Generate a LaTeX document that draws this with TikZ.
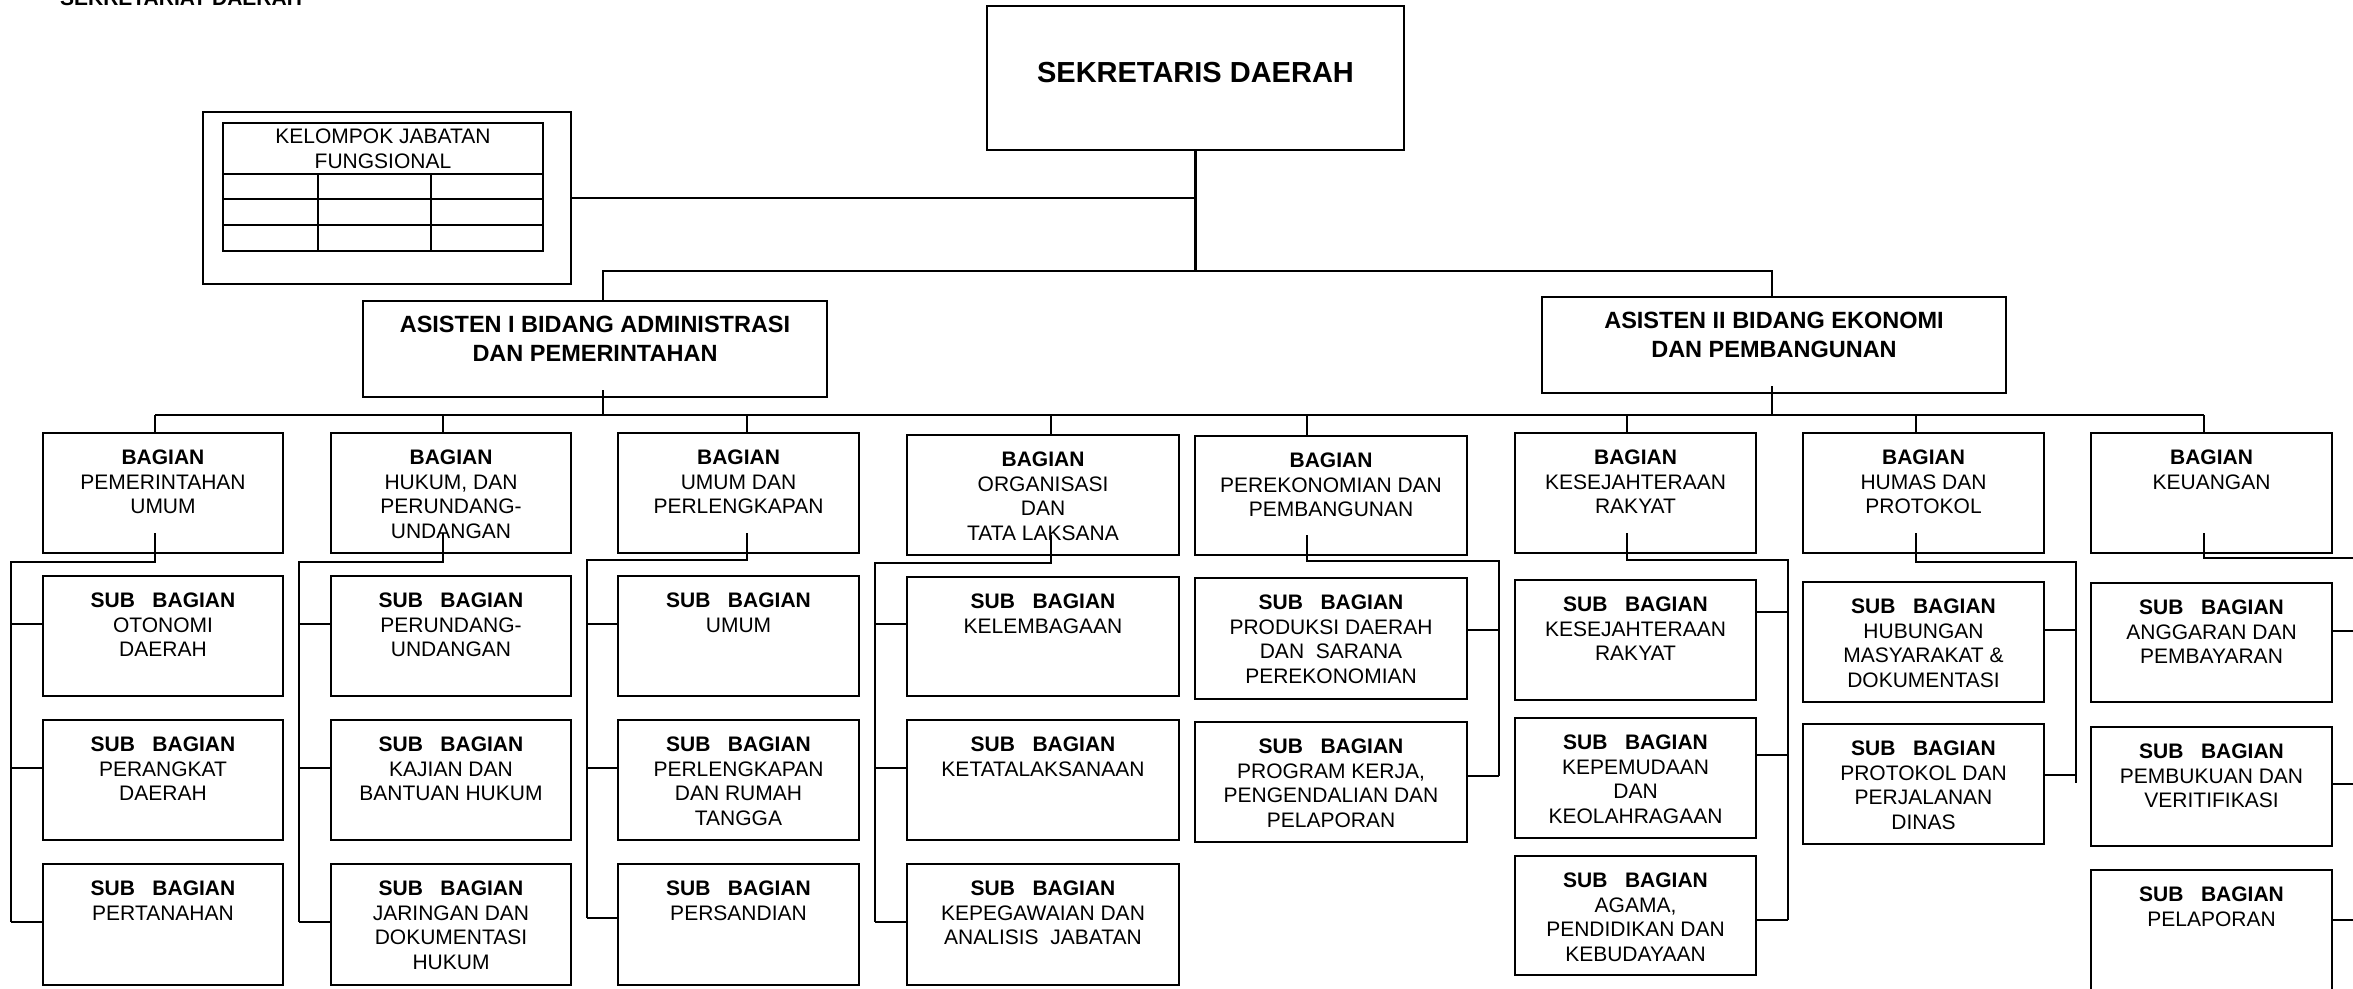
\documentclass[tikz,border=0pt]{standalone}
\usepackage{fontspec}
\setmainfont{Liberation Sans}
\usetikzlibrary{calc}
\newcommand\bagn{\textbf{BAGIAN}}
\newcommand\subbag{\textbf{SUB\ \ \ BAGIAN}}
\newcommand\obox[6]{%
  \node[box, minimum width={(#4-#2)*0.5pt}, minimum height={(#5-#3)*0.5pt}] (#1) at ({(#2+#4)/2},{(#3+#5)/2}) {};
  \node[txt, anchor=north] (#1t) at ([yshift=-8pt]#1.north) {#6};}
\begin{document}
\begin{tikzpicture}[x=0.5pt,y=-0.5pt,line width=1.1pt,
  box/.style={draw, inner sep=0pt, outer sep=0pt},
  txt/.style={inner sep=0pt, align=center, font=\fontsize{10.5}{12.25}\selectfont},
  big/.style={inner sep=0pt, align=center, font=\bfseries\fontsize{11.75}{14.5}\selectfont}]
\useasboundingbox (0,0) rectangle (2353,989);
\clip (0,0) rectangle (2353,989);
% title
\node[anchor=base west, inner sep=0pt, font=\bfseries\fontsize{10.5}{12}\selectfont] (title) at (59,6) {SEKRETARIAT DAERAH};
% sekretaris daerah
\node[box, minimum width=208.5pt, minimum height=72pt] (sd) at (1195.5,78) {};
\node[inner sep=0pt, anchor=north, font=\bfseries\fontsize{14.5}{17}\selectfont] (sdt) at ([yshift=-27.8pt]sd.north) {SEKRETARIS DAERAH};
% kelompok jabatan fungsional
\node[box, minimum width=184pt, minimum height=86pt] (kjf) at (387,198) {};
\node[box, minimum width=160pt, minimum height=25.5pt] (kjh) at (383,148.5) {};
\node[txt, anchor=north] (kjt) at ([yshift=-2.6pt]kjh.north) {KELOMPOK JABATAN\\FUNGSIONAL};
\draw (kjh.south west) rectangle ($(kjh.south east)+(0,77)$);
\draw (kjh.south west |- 0,199) -- (kjh.south east |- 0,199);
\draw (kjh.south west |- 0,225) -- (kjh.south east |- 0,225);
\draw (318,0 |- kjh.south) -- (318,251);
\draw (431,0 |- kjh.south) -- (431,251);
% asisten
\node[box, minimum width=232pt, minimum height=48pt] (a1) at (595,349) {};
\node[big, anchor=north] (a1t) at ([yshift=-7pt]a1.north) {ASISTEN I BIDANG ADMINISTRASI\\DAN PEMERINTAHAN};
\node[box, minimum width=232pt, minimum height=48pt] (a2) at (1774,345) {};
\node[big, anchor=north] (a2t) at ([yshift=-7pt]a2.north) {ASISTEN II BIDANG EKONOMI\\DAN PEMBANGUNAN};
% bagian
\obox{pu}{43}{433}{283}{553}{\bagn\\PEMERINTAHAN\\UMUM}
\obox{hk}{331}{433}{571}{553}{\bagn\\HUKUM, DAN\\PERUNDANG-\\UNDANGAN}
\obox{um}{618}{433}{859}{553}{\bagn\\UMUM DAN\\PERLENGKAPAN}
\obox{og}{907}{435}{1179}{555}{\bagn\\ORGANISASI\\DAN\\TATA LAKSANA}
\obox{pe}{1195}{436}{1467}{555}{\bagn\\PEREKONOMIAN DAN\\PEMBANGUNAN}
\obox{ks}{1515}{433}{1756}{553}{\bagn\\KESEJAHTERAAN\\RAKYAT}
\obox{hm}{1803}{433}{2044}{553}{\bagn\\HUMAS DAN\\PROTOKOL}
\obox{ku}{2091}{433}{2332}{553}{\bagn\\KEUANGAN}
% sub bagian
\obox{pu1}{43}{576}{283}{696}{\subbag\\OTONOMI\\DAERAH}
\obox{pu2}{43}{720}{283}{840}{\subbag\\PERANGKAT\\DAERAH}
\obox{pu3}{43}{864}{283}{985}{\subbag\\PERTANAHAN}
\obox{hk1}{331}{576}{571}{696}{\subbag\\PERUNDANG-\\UNDANGAN}
\obox{hk2}{331}{720}{571}{840}{\subbag\\KAJIAN DAN\\BANTUAN HUKUM}
\obox{hk3}{331}{864}{571}{985}{\subbag\\JARINGAN DAN\\DOKUMENTASI\\HUKUM}
\obox{um1}{618}{576}{859}{696}{\subbag\\UMUM}
\obox{um2}{618}{720}{859}{840}{\subbag\\PERLENGKAPAN\\DAN RUMAH\\TANGGA}
\obox{um3}{618}{864}{859}{985}{\subbag\\PERSANDIAN}
\obox{og1}{907}{577}{1179}{696}{\subbag\\KELEMBAGAAN}
\obox{og2}{907}{720}{1179}{840}{\subbag\\KETATALAKSANAAN}
\obox{og3}{907}{864}{1179}{985}{\subbag\\KEPEGAWAIAN DAN\\ANALISIS\ \ JABATAN}
\obox{pe1}{1195}{578}{1467}{699}{\subbag\\PRODUKSI DAERAH\\DAN\ \ SARANA\\PEREKONOMIAN}
\obox{pe2}{1195}{722}{1467}{842}{\subbag\\PROGRAM KERJA,\\PENGENDALIAN DAN\\PELAPORAN}
\obox{ks1}{1515}{580}{1756}{700}{\subbag\\KESEJAHTERAAN\\RAKYAT}
\obox{ks2}{1515}{718}{1756}{838}{\subbag\\KEPEMUDAAN\\DAN\\KEOLAHRAGAAN}
\obox{ks3}{1515}{856}{1756}{975}{\subbag\\AGAMA,\\PENDIDIKAN DAN\\KEBUDAYAAN}
\obox{hm1}{1803}{582}{2044}{702}{\subbag\\HUBUNGAN\\MASYARAKAT \&\\DOKUMENTASI}
\obox{hm2}{1803}{724}{2044}{844}{\subbag\\PROTOKOL DAN\\PERJALANAN\\DINAS}
\obox{ku1}{2091}{583}{2332}{702}{\subbag\\ANGGARAN DAN\\PEMBAYARAN}
\obox{ku2}{2091}{727}{2332}{846}{\subbag\\PEMBUKUAN DAN\\VERITIFIKASI}
\obox{ku3}{2091}{870}{2332}{1020}{\subbag\\PELAPORAN}
% top connectors
\coordinate (t1) at (603,271);
\coordinate (t2) at (1772,271);
\draw (sd.south) -- (sd.south |- t1);
\draw (kjf.east) -- (kjf.east -| sd.south);
\draw (t1 |- a1.north) -- (t1) -- (t2) -- (t2 |- a2.north);
% second bus
\coordinate (d1) at (155,415);
\coordinate (d2) at (443,415);
\coordinate (d3) at (747,415);
\coordinate (d4) at (1051,415);
\coordinate (d5) at (1307,415);
\coordinate (d6) at (1627,415);
\coordinate (d7) at (1916,415);
\coordinate (d8) at (2204,415);
\draw ($(t1 |- a1.south)+(0,-7)$) -- (t1 |- d1);
\draw ($(t2 |- a2.south)+(0,-7)$) -- (t2 |- d1);
\draw (d1) -- (d8);
\foreach \d/\b in {d1/pu,d2/hk,d3/um,d4/og,d5/pe,d6/ks,d7/hm,d8/ku}
  \draw (\d) -- (\d |- \b.north);
% groups
\coordinate (h1) at (11,562);
\draw ($(d1 |- pu.south)+(0,-20)$) -- (d1 |- h1) -- (h1) -- (h1 |- 0,922);
\foreach \y/\s in {624/pu1,768/pu2,922/pu3} \draw (h1 |- 0,\y) -- (\s.west |- 0,\y);
\coordinate (h2) at (299,562);
\draw ($(d2 |- hk.south)+(0,-20)$) -- (d2 |- h2) -- (h2) -- (h2 |- 0,922);
\foreach \y/\s in {624/hk1,768/hk2,922/hk3} \draw (h2 |- 0,\y) -- (\s.west |- 0,\y);
\coordinate (h3) at (587,560);
\draw ($(d3 |- um.south)+(0,-20)$) -- (d3 |- h3) -- (h3) -- (h3 |- 0,918);
\foreach \y/\s in {624/um1,768/um2,918/um3} \draw (h3 |- 0,\y) -- (\s.west |- 0,\y);
\coordinate (h4) at (875,563);
\draw ($(d4 |- og.south)+(0,-20)$) -- (d4 |- h4) -- (h4) -- (h4 |- 0,922);
\foreach \y/\s in {624/og1,768/og2,922/og3} \draw (h4 |- 0,\y) -- (\s.west |- 0,\y);
\coordinate (h5) at (1499,561);
\draw ($(d5 |- pe.south)+(0,-20)$) -- (d5 |- h5) -- (h5) -- (h5 |- 0,776);
\foreach \y/\s in {630/pe1,776/pe2} \draw (h5 |- 0,\y) -- (\s.east |- 0,\y);
\coordinate (h6) at (1788,560);
\draw ($(d6 |- ks.south)+(0,-20)$) -- (d6 |- h6) -- (h6) -- (h6 |- 0,920);
\foreach \y/\s in {612/ks1,755/ks2,920/ks3} \draw (h6 |- 0,\y) -- (\s.east |- 0,\y);
\coordinate (h7) at (2076,562);
\draw ($(d7 |- hm.south)+(0,-20)$) -- (d7 |- h7) -- (h7) -- (h7 |- 0,783);
\foreach \y/\s in {630/hm1,775/hm2} \draw (h7 |- 0,\y) -- (\s.east |- 0,\y);
\coordinate (h8) at (2365,558);
\draw ($(d8 |- ku.south)+(0,-20)$) -- (d8 |- h8) -- (h8);
\foreach \y/\s in {631/ku1,784/ku2,920/ku3} \draw (h8 |- 0,\y) -- (\s.east |- 0,\y);
\end{tikzpicture}
\end{document}
